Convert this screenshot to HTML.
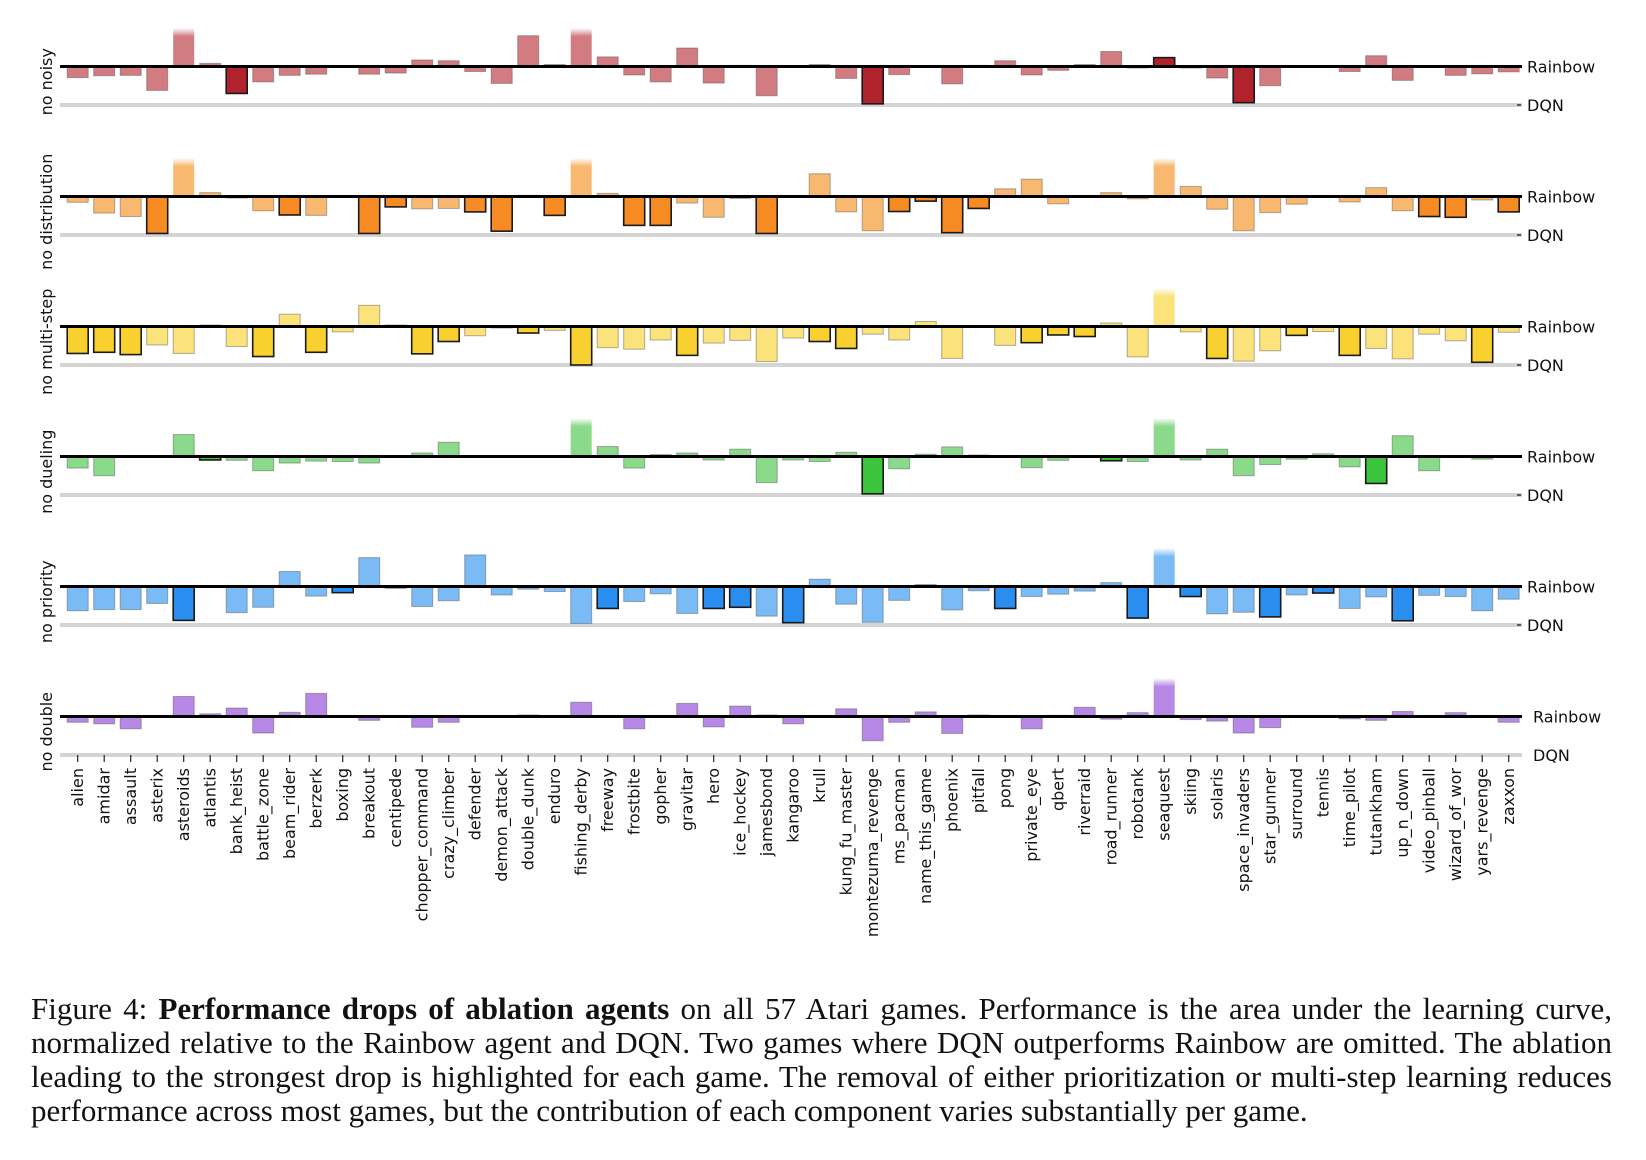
<!DOCTYPE html>
<html><head><meta charset="utf-8">
<style>
html,body{margin:0;padding:0;background:#fff;}
#wrap{position:relative;width:1646px;height:1160px;overflow:hidden;}
svg{position:absolute;left:0;top:0;}
.cap{position:absolute;left:31px;width:1581px;font-family:"Liberation Serif",serif;font-size:31px;line-height:34px;color:#111;white-space:nowrap;}
.j{text-align:justify;text-align-last:justify;white-space:normal;}
</style></head>
<body>
<div id="wrap">
<svg id="chart" width="1646" height="1160"></svg>
<div class="cap j" style="top:992px">Figure 4: <b>Performance drops of ablation agents</b> on all 57 Atari games. Performance is the area under the learning curve,</div>
<div class="cap j" style="top:1026px">normalized relative to the Rainbow agent and DQN. Two games where DQN outperforms Rainbow are omitted. The ablation</div>
<div class="cap j" style="top:1060px">leading to the strongest drop is highlighted for each game. The removal of either prioritization or multi-step learning reduces</div>
<div class="cap" style="top:1094px">performance across most games, but the contribution of each component varies substantially per game.</div>
</div>
<script>
const games = ["alien","amidar","assault","asterix","asteroids","atlantis","bank_heist","battle_zone","beam_rider","berzerk","boxing","breakout","centipede","chopper_command","crazy_climber","defender","demon_attack","double_dunk","enduro","fishing_derby","freeway","frostbite","gopher","gravitar","hero","ice_hockey","jamesbond","kangaroo","krull","kung_fu_master","montezuma_revenge","ms_pacman","name_this_game","phoenix","pitfall","pong","private_eye","qbert","riverraid","road_runner","robotank","seaquest","skiing","solaris","space_invaders","star_gunner","surround","tennis","time_pilot","tutankham","up_n_down","video_pinball","wizard_of_wor","yars_revenge","zaxxon"];
const panelNames = ["no noisy","no distribution","no multi-step","no dueling","no priority","no double"];
const noisy = [-0.29,-0.24,-0.23,-0.62,1.0,0.08,-0.7,-0.4,-0.23,-0.2,0,-0.2,-0.17,0.17,0.15,-0.13,-0.44,0.8,0.05,1.0,0.25,-0.22,-0.4,0.48,-0.43,0.03,-0.76,0,0.05,-0.31,-0.97,-0.21,0.02,-0.45,0.03,0.15,-0.22,-0.1,0.05,0.39,-0.04,0.23,-0.04,-0.3,-0.94,-0.5,0,0,-0.13,0.28,-0.36,0,-0.23,-0.19,-0.14];
const distribution = [-0.15,-0.43,-0.52,-0.96,1.0,0.1,-0.04,-0.37,-0.48,-0.49,0,-0.96,-0.27,-0.32,-0.31,-0.4,-0.9,0.03,-0.49,1.0,0.08,-0.75,-0.75,-0.17,-0.54,-0.05,-0.96,0,0.59,-0.4,-0.89,-0.39,-0.12,-0.94,-0.31,0.2,0.45,-0.19,0,0.1,-0.06,1.0,0.26,-0.33,-0.89,-0.42,-0.2,0,-0.14,0.23,-0.37,-0.52,-0.54,-0.09,-0.4];
const multistep = [-0.7,-0.67,-0.73,-0.48,-0.7,0.04,-0.52,-0.78,0.32,-0.67,-0.14,0.55,0.04,-0.71,-0.39,-0.24,-0.04,-0.17,-0.1,-1.0,-0.55,-0.59,-0.35,-0.75,-0.43,-0.36,-0.91,-0.3,-0.39,-0.57,-0.2,-0.35,0.13,-0.83,0,-0.49,-0.42,-0.22,-0.26,0.09,-0.79,1.0,-0.14,-0.83,-0.9,-0.63,-0.23,-0.13,-0.75,-0.57,-0.84,-0.2,-0.37,-0.93,-0.15];
const dueling = [-0.3,-0.5,0,0,0.57,-0.09,-0.1,-0.37,-0.17,-0.12,-0.13,-0.17,0,0.09,0.37,0,0,0,0,1.0,0.26,-0.3,0.05,0.09,-0.09,0.19,-0.68,-0.09,-0.13,0.11,-0.97,-0.32,0.06,0.25,0.04,0,-0.29,-0.1,0,-0.11,-0.13,1.0,-0.09,0.19,-0.5,-0.21,-0.07,0.07,-0.27,-0.7,0.54,-0.37,0,-0.07,0];
const priority = [-0.63,-0.6,-0.6,-0.44,-0.88,0,-0.68,-0.54,0.39,-0.25,-0.16,0.75,-0.05,-0.52,-0.37,0.82,-0.22,-0.07,-0.13,-0.96,-0.57,-0.39,-0.19,-0.7,-0.57,-0.54,-0.77,-0.94,0.19,-0.46,-0.93,-0.36,0.05,-0.61,-0.11,-0.57,-0.26,-0.2,-0.12,0.1,-0.82,1.0,-0.26,-0.71,-0.67,-0.79,-0.22,-0.17,-0.57,-0.27,-0.89,-0.23,-0.26,-0.63,-0.33];
const double = [-0.15,-0.19,-0.32,0,0.52,0.07,0.22,-0.43,0.11,0.6,0,-0.1,0,-0.28,-0.15,0,0,0.04,0,0.37,0,-0.32,0,0.34,-0.27,0.27,0.04,-0.19,0,0.2,-0.63,-0.15,0.12,-0.44,0.04,0,-0.32,0.03,0.24,-0.07,0.1,1.0,-0.08,-0.12,-0.43,-0.29,0,0,-0.06,-0.1,0.13,0,0.1,0,-0.15];
const series = [noisy, distribution, multistep, dueling, priority, double];
const lightColors = ["#d27c82","#f9b86f","#fbe27a","#8bd98b","#7bbbf5","#b888e6"];
const darkColors = ["#b0222c","#f58b22","#f8d030","#3cc43c","#2a8ef0","#9050d0"];

const NS = "http://www.w3.org/2000/svg";
const svg = document.getElementById("chart");
const X0 = 77.7, DX = 26.5, BW = 21, UNIT = 38.5;
const PANEL_TOP = 66.5, PANEL_GAP = 130;
const LX0 = 60, LX1 = 1522;
function xScale(i){ return X0 + DX*i; }
function yScale(p, v){ return PANEL_TOP + PANEL_GAP*p - v*UNIT; }
function mk(tag, attrs){ const e=document.createElementNS(NS,tag); for(const k in attrs) e.setAttribute(k, attrs[k]); svg.appendChild(e); return e; }

const defs = document.createElementNS(NS,"defs"); svg.appendChild(defs);

const minVal = games.map((g,i)=>Math.min(...series.map(s=>s[i])));

series.forEach((s,p)=>{
  const base = yScale(p,0), dqn = yScale(p,-1);
  const grad = document.createElementNS(NS,"linearGradient");
  grad.setAttribute("id","fade"+p); grad.setAttribute("x1","0"); grad.setAttribute("y1","0"); grad.setAttribute("x2","0"); grad.setAttribute("y2","1");
  grad.innerHTML = '<stop offset="0" stop-color="#fff"/><stop offset="0.22" stop-color="'+lightColors[p]+'"/><stop offset="1" stop-color="'+lightColors[p]+'"/>';
  defs.appendChild(grad);
  const gl = mk("line",{x1:LX0,y1:dqn,x2:LX1,y2:dqn,stroke:"#d4d4d4","stroke-width":4});
  
  
  s.forEach((v,i)=>{
    if (Math.abs(v) < 0.005) return;
    const vv = Math.max(-1, Math.min(1, v));
    const y1 = yScale(p, Math.max(vv,0)), y2 = yScale(p, Math.min(vv,0));
    const hl = v <= minVal[i] + 0.005;
    const capped = v >= 1;
    const r = mk("rect",{x:xScale(i)-BW/2,y:y1,width:BW,height:Math.max(1.5,y2-y1),
      fill: hl ? darkColors[p] : (capped ? "url(#fade"+p+")" : lightColors[p]),
      stroke: hl ? "#1a1a1a" : (capped ? "none" : "rgba(80,80,80,0.45)"), "stroke-width": hl?1.6:1});
    
    
  });
  const bl = mk("line",{x1:LX0,y1:base,x2:LX1,y2:base,stroke:"#000","stroke-width":3});
  
  
  const lx = p===5 ? 1533 : 1527;
  const t1 = mk("text",{x:lx,y:base+6,"font-family":"DejaVu Sans, sans-serif","font-size":16,fill:"#111"});
  t1.textContent = "Rainbow";
  
  
  if (p<5) mk("line",{x1:1517,y1:dqn,x2:1521,y2:dqn,stroke:"#333","stroke-width":1.5});
  const t2 = mk("text",{x:lx,y:dqn+6,"font-family":"DejaVu Sans, sans-serif","font-size":16,fill:"#111"});
  t2.textContent = "DQN";
  
  
  const cy = (base+dqn)/2 - 4;
  const yl = mk("text",{x:0,y:0,transform:"translate(52,"+cy+") rotate(-90)","text-anchor":"middle","font-family":"DejaVu Sans, sans-serif","font-size":16,fill:"#111"});
  yl.textContent = panelNames[p];
  
  
});

const axisY = yScale(5,-1);
games.forEach((g,i)=>{
  const x = xScale(i);
  mk("line",{x1:x,y1:axisY,x2:x,y2:axisY+7,stroke:"#222","stroke-width":1.2});
  const t = mk("text",{x:0,y:0,transform:"translate("+(x+5.5)+","+(axisY+13)+") rotate(-90)","text-anchor":"end","font-family":"DejaVu Sans, sans-serif","font-size":16,fill:"#111"});
  t.textContent = g;
  
  
});
</script>
</body></html>
